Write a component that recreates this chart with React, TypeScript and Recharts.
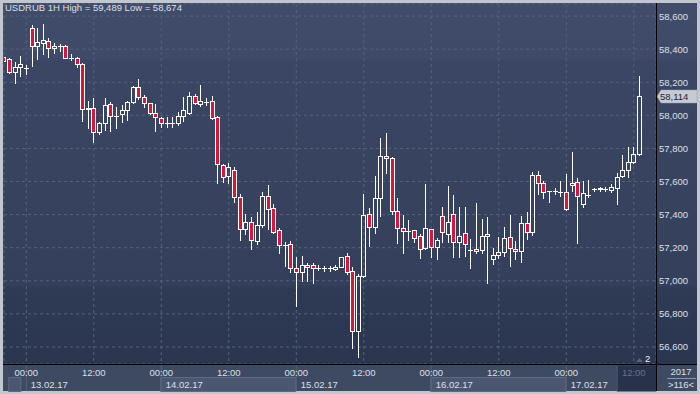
import React from 'react';
import { ComposedChart, Bar, XAxis, YAxis, CartesianGrid, ReferenceLine } from 'recharts';

// ---- data (hourly candles, h = hours from 13.02.17 00:00) ----
const opens = [
  58350, 58340, 58260, 58294, 58284, 58526, 58421, 58435, 58449, 58405, 58420, 58417, 58348, 58344,
  58308, 58038, 58042, 57897, 57952, 58066, 57996, 58006, 58030, 58079, 58169, 58109, 58073, 58012,
  57982, 57954, 57955, 57952, 57996, 58016, 58117, 58066, 58079, 58088, 57988, 57700, 57633, 57670,
  57505, 57311, 57357, 57242, 57337, 57512, 57438, 57307, 57216, 57222, 57076, 57055, 57094, 57094,
  57077, 57076, 57077, 57073, 57085, 57150, 57059, 56699, 57029, 57402, 57323, 57499, 57752, 57740,
  57424, 57317, 57301, 57305, 57271, 57196, 57311, 57202, 57392, 57281, 57402, 57233, 57287, 57188,
  57192, 57186, 57269, 57130, 57154, 57172, 57263, 57192, 57178, 57347, 57293, 57639, 57589, 57541,
  57540, 57538, 57535, 57577, 57599, 57464, 57518, 57553, 57557, 57555, 57549, 57559, 57633, 57670,
  57720, 57764,
];
const highs = [
  58352, 58344, 58320, 58360, 58304, 58546, 58529, 58550, 58465, 58435, 58431, 58425, 58369, 58354,
  58316, 58086, 58105, 57961, 58105, 58080, 58050, 58062, 58088, 58177, 58218, 58123, 58075, 58067,
  57992, 57988, 57988, 58022, 58109, 58139, 58129, 58183, 58103, 58117, 57996, 57706, 57712, 57688,
  57525, 57404, 57387, 57414, 57535, 57579, 57464, 57317, 57236, 57242, 57142, 57150, 57109, 57106,
  57094, 57090, 57090, 57096, 57144, 57166, 57082, 57041, 57525, 57438, 57633, 57861, 57891, 57746,
  57499, 57398, 57367, 57307, 57281, 57585, 57313, 57257, 57448, 57573, 57519, 57446, 57444, 57251,
  57468, 57372, 57384, 57196, 57263, 57323, 57396, 57241, 57392, 57418, 57659, 57664, 57603, 57543,
  57559, 57603, 57645, 57776, 57623, 57603, 57609, 57559, 57565, 57565, 57585, 57653, 57760, 57810,
  57810, 58237,
];
const lows = [
  58326, 58258, 58197, 58237, 58248, 58300, 58340, 58369, 58354, 58378, 58390, 58344, 58334, 58290,
  57966, 57925, 57841, 57887, 57911, 57905, 57923, 57961, 57972, 58074, 58097, 58048, 58010, 57907,
  57928, 57928, 57932, 57941, 57967, 58008, 58068, 58058, 58062, 57980, 57589, 57597, 57593, 57478,
  57247, 57283, 57192, 57222, 57327, 57311, 57287, 57170, 57090, 57055, 56848, 56999, 56999, 56989,
  57065, 57061, 57061, 57065, 57084, 57041, 56592, 56542, 57025, 57212, 57287, 57393, 57653, 57402,
  57227, 57170, 57247, 57236, 57136, 57192, 57146, 57130, 57236, 57233, 57142, 57141, 57152, 57079,
  57166, 57166, 56985, 57100, 57136, 57152, 57091, 57132, 57115, 57253, 57277, 57523, 57502, 57478,
  57525, 57512, 57428, 57544, 57227, 57444, 57508, 57544, 57544, 57541, 57538, 57464, 57629, 57625,
  57710, 57760,
];
const closes = [
  58328, 58260, 58294, 58308, 58286, 58421, 58441, 58455, 58405, 58417, 58421, 58344, 58346, 58308,
  58036, 58044, 57897, 57952, 58062, 57996, 57998, 58030, 58079, 58169, 58109, 58073, 58012, 57988,
  57952, 57953, 57956, 57996, 58032, 58117, 58073, 58085, 58080, 57982, 57704, 57629, 57688, 57505,
  57311, 57357, 57247, 57337, 57512, 57432, 57297, 57216, 57214, 57079, 57051, 57094, 57082, 57076,
  57078, 57075, 57078, 57085, 57142, 57055, 56699, 57029, 57398, 57323, 57499, 57752, 57740, 57424,
  57317, 57301, 57300, 57261, 57190, 57317, 57202, 57245, 57297, 57357, 57236, 57268, 57221, 57189,
  57180, 57269, 57281, 57154, 57172, 57257, 57196, 57180, 57347, 57293, 57639, 57589, 57538, 57540,
  57541, 57539, 57432, 57589, 57512, 57529, 57519, 57554, 57558, 57556, 57569, 57629, 57670, 57716,
  57764, 58114,
];
const FIRST_HOUR = -4;
const hours = opens.map((_, i) => FIRST_HOUR + i);

const priceTicks = [56600, 56800, 57000, 57200, 57400, 57600, 57800, 58000, 58200, 58400, 58600];
const timeTicks = [0, 12, 24, 36, 48, 60, 72, 84, 96, 108];
const timeLabels = ['00:00', '12:00'];
const dayLabels = ['13.02.17', '14.02.17', '15.02.17', '16.02.17', '17.02.17'];
const titleText = 'USDRUB 1H High = 59,489 Low = 58,674';
const lastPrice = 58114;
const yearLabel = '2017';
const barsLabel = '>116<';
const markerLabel = '2';

const data = hours.map((h, i) => ({
  h,
  open: opens[i],
  high: highs[i],
  low: lows[i],
  close: closes[i],
  range: [lows[i], highs[i]],
}));

// ---- layout / style ----
const W = 700;
const H = 394;
const X_DOMAIN: [number, number] = [-3.96, 111.95];
const Y_DOMAIN: [number, number] = [56497, 58673];
const MARGIN = { top: 4, right: 0, bottom: 0, left: 4 };
const Y_AXIS_W = 44;
const X_AXIS_H = 30;
const PLOT_W = W - MARGIN.left - Y_AXIS_W;
const PLOT_RIGHT = MARGIN.left + PLOT_W;
const PLOT_BOTTOM = H - X_AXIS_H;
const DAY_PX = (24 * PLOT_W) / (X_DOMAIN[1] - X_DOMAIN[0]);
const FONT = '"Liberation Sans", Arial, sans-serif';
const FS = 9.5;
const TEXT = '#dbe0e8';
const RED = '#dc143c';
const GRID = '#56627c';

function Candle(props: any) {
  const { x, y, width, height, payload } = props;
  if (x == null || y == null || !payload) return null;
  const top = Math.min(y, y + height);
  const bot = Math.max(y, y + height);
  const { open, close, high, low } = payload;
  const k = (bot - top) / (high - low);
  const py = (v: number) => top + (high - v) * k;
  const cx = Math.round(x + width / 2) + 0.5;
  const yo = py(open);
  const yc = py(close);
  const bt = Math.round(Math.min(yo, yc)) + 0.5;
  const bb = Math.round(Math.max(yo, yc)) + 0.5;
  const wt = Math.round(top);
  const wb = Math.round(bot) + 1;
  const up = close >= open;
  if (bb - bt < 1) {
    return (
      <g>
        <line x1={cx} x2={cx} y1={wt} y2={wb} stroke="#fff" strokeWidth={1} />
        <line x1={cx - 2.5} x2={cx + 2.5} y1={bt} y2={bt} stroke="#fff" strokeWidth={1} />
      </g>
    );
  }
  return (
    <g>
      {bt > wt && <line x1={cx} x2={cx} y1={wt} y2={bt} stroke="#fff" strokeWidth={1} />}
      {wb > bb && <line x1={cx} x2={cx} y1={bb} y2={wb} stroke="#fff" strokeWidth={1} />}
      <rect x={cx - 2} y={bt} width={4} height={bb - bt} fill={up ? 'none' : RED} stroke="#fff" strokeWidth={1} />
    </g>
  );
}

function XTick(props: any) {
  const { x, payload } = props;
  const v = payload.value as number;
  const isDay = v % 24 === 0;
  const di = Math.round(v / 24);
  const isLast = v === timeTicks[timeTicks.length - 1];
  const label = timeLabels[isDay ? 0 : 1];
  const top = PLOT_BOTTOM + 0.5;
  return (
    <g>
      {isLast && (
        <g>
          <rect x={x - 16.5} y={top + 1} width={PLOT_RIGHT - (x - 16.5)} height={26} fill="#28324a" />
          <line x1={x - 16.5} x2={x - 16.5} y1={top + 1} y2={top + 27} stroke="#4a556d" />
        </g>
      )}
      {isDay && di === 0 && (
        <rect x={x - 17.5} y={377.5} width={12} height={14} fill="#4b5770" stroke="#5f6a82" />
      )}
      {isDay && di % 2 === 1 && (
        <rect x={x - 0.5} y={377.5} width={DAY_PX} height={14} fill="#4b5770" stroke="#5f6a82" />
      )}
      {isDay && <line x1={x} x2={x} y1={top + 1} y2={391} stroke="#56627a" />}
      <text
        x={x}
        y={376}
        textAnchor="middle"
        fontFamily={FONT}
        fontSize={FS}
        fill={isLast ? '#66728c' : TEXT}
      >
        {label}
      </text>
      {isDay && (
        <text x={x + 4.5} y={387.5} fontFamily={FONT} fontSize={FS} fill={TEXT}>
          {dayLabels[di]}
        </text>
      )}
    </g>
  );
}

function YTick(props: any) {
  const { y, payload } = props;
  return (
    <text x={PLOT_RIGHT + 3} y={y + 3.5} fontFamily={FONT} fontSize={FS} fill={TEXT}>
      {Number(payload.value).toLocaleString('en-US')}
    </text>
  );
}

function PriceTag(props: any) {
  const vb = props.viewBox || {};
  const y = Math.round(vb.y) + 0.5;
  const x0 = PLOT_RIGHT + 1;
  const pts = `${x0},${y} ${x0 + 4},${y - 6.5} ${x0 + 40},${y - 6.5} ${x0 + 40},${y + 6.5} ${x0 + 4},${y + 6.5}`;
  return (
    <g>
      <polygon points={pts} fill="#c6cbd3" stroke="#9aa1ad" strokeWidth={0.5} />
      <text x={x0 + 3} y={y + 3.5} fontFamily={FONT} fontSize={FS} fill="#1c2233">
        {lastPrice.toLocaleString('en-US')}
      </text>
    </g>
  );
}

export default function App() {
  const bg =
    'linear-gradient(to bottom, #404c6a 0px, #3e4a67 55px, #3a4663 58px, #37435f 170px, #343f5b 282px, #2f3a55 285px, #2b3550 361px)';
  return (
    <div style={{ position: 'absolute', left: 0, top: 0, width: W, height: H, background: '#c1c6cf', overflow: 'hidden' }}>
      <div style={{ position: 'absolute', left: 3, top: 3, width: W - 6, height: PLOT_BOTTOM - 3, background: bg }} />
      <div style={{ position: 'absolute', left: 3, top: PLOT_BOTTOM, width: W - 6, height: 27, background: '#3e4962' }} />
      <div style={{ position: 'absolute', left: 0, top: 0 }}>
        <ComposedChart width={W} height={H} data={data} margin={MARGIN}>
          <CartesianGrid stroke={GRID} strokeDasharray="3 3" />
          <XAxis
            type="number"
            dataKey="h"
            domain={X_DOMAIN}
            allowDataOverflow
            ticks={timeTicks}
            interval={0}
            tick={<XTick />}
            tickLine={false}
            axisLine={false}
            height={X_AXIS_H}
          />
          <YAxis
            orientation="right"
            type="number"
            domain={Y_DOMAIN}
            allowDataOverflow
            ticks={priceTicks}
            interval={0}
            tick={<YTick />}
            tickLine={false}
            axisLine={false}
            width={Y_AXIS_W}
          />
          <Bar dataKey="range" barSize={5} shape={<Candle />} isAnimationActive={false} />
          <ReferenceLine y={lastPrice} stroke="none" strokeOpacity={0} label={(p: any) => <PriceTag {...p} />} />
        </ComposedChart>
      </div>
      <svg width={W} height={H} style={{ position: 'absolute', left: 0, top: 0, pointerEvents: 'none' }}>
        <line x1={PLOT_RIGHT + 0.5} x2={PLOT_RIGHT + 0.5} y1={3} y2={391} stroke="#000" />
        <line x1={3} x2={697} y1={PLOT_BOTTOM + 0.5} y2={PLOT_BOTTOM + 0.5} stroke="#000" />
        <text x={5} y={11} fontFamily={FONT} fontSize={FS} fill={TEXT}>
          {titleText}
        </text>
        <polygon points="636,362 639.5,358 643,362" fill="#56627a" />
        <text x={645} y={362} fontFamily={FONT} fontSize={FS} fill="#eef1f5">
          {markerLabel}
        </text>
        <text x={681} y={375} textAnchor="middle" fontFamily={FONT} fontSize={FS} fill={TEXT}>
          {yearLabel}
        </text>
        <line x1={667} x2={696} y1={378.5} y2={378.5} stroke="#8d96a8" />
        <text x={681} y={388} textAnchor="middle" fontFamily={FONT} fontSize={FS} fill={TEXT}>
          {barsLabel}
        </text>
      </svg>
    </div>
  );
}
